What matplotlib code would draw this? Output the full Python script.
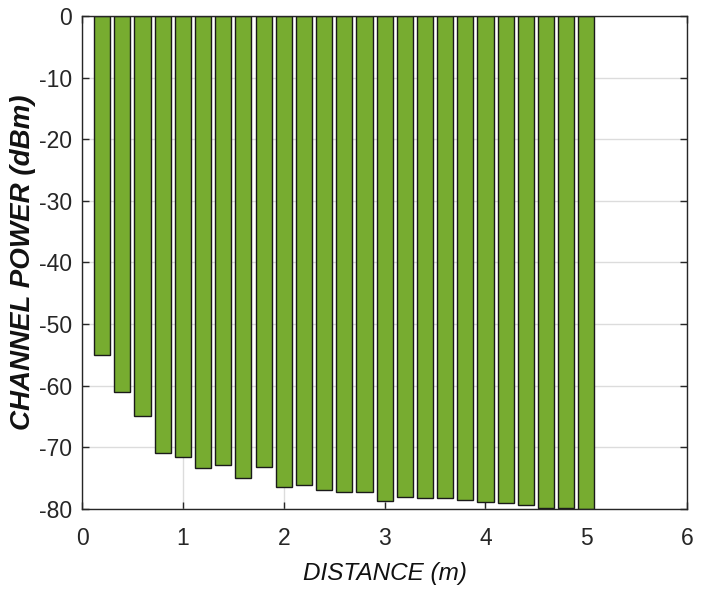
import numpy as np
import matplotlib
matplotlib.use('Agg')
import matplotlib.pyplot as plt

# 数据：距离 (m) 与信道功率 (dBm)
distance = [0.2, 0.4, 0.6, 0.8, 1.0, 1.2, 1.4, 1.6, 1.8, 2.0,
            2.2, 2.4, 2.6, 2.8, 3.0, 3.2, 3.4, 3.6, 3.8, 4.0,
            4.2, 4.4, 4.6, 4.8, 5.0]
power = [-55.0, -61.1, -65.0, -71.0, -71.5, -73.4, -72.9, -75.0, -73.2, -76.4,
         -76.2, -77.0, -77.2, -77.3, -78.7, -78.1, -78.3, -78.2, -78.5, -78.9,
         -79.1, -79.4, -79.8, -79.8, -80.0]
xticks = [0, 1, 2, 3, 4, 5, 6]
yticks = [0, -10, -20, -30, -40, -50, -60, -70, -80]

plt.rcParams['font.family'] = ['Liberation Sans', 'DejaVu Sans']
plt.rcParams['axes.unicode_minus'] = False   # 用普通连字符作负号
plt.rcParams['xtick.direction'] = 'in'
plt.rcParams['ytick.direction'] = 'in'

fig = plt.figure(figsize=(7.07, 5.89), dpi=100)
ax = fig.add_axes([0.116, 0.136, 0.856, 0.837])

ax.bar(distance, power, width=0.16, color='#77AC30', edgecolor='#1a1a1a',
       linewidth=1.0, zorder=3)

ax.set_xlim(0, 6)
ax.set_ylim(-80, 0)
ax.set_xticks(xticks)
ax.set_yticks(yticks)
ax.grid(True, color='#dcdcdc', linewidth=1.0, zorder=0)
ax.tick_params(axis='both', labelsize=16.5, length=5, width=1, colors='#262626',
               top=True, right=True)
ax.tick_params(axis='x', pad=13)
ax.tick_params(axis='y', pad=7)
for s in ax.spines.values():
    s.set_color('#262626')
    s.set_linewidth(1.0)
    s.set_zorder(4)

ax.set_xlabel('DISTANCE (m)', fontsize=17.5, fontstyle='italic', color='#111111',
              labelpad=9)
ax.set_ylabel('CHANNEL POWER (dBm)', fontsize=20, fontstyle='italic',
              fontweight='bold', color='#111111', labelpad=2)

fig.savefig('out.png', dpi=100)
